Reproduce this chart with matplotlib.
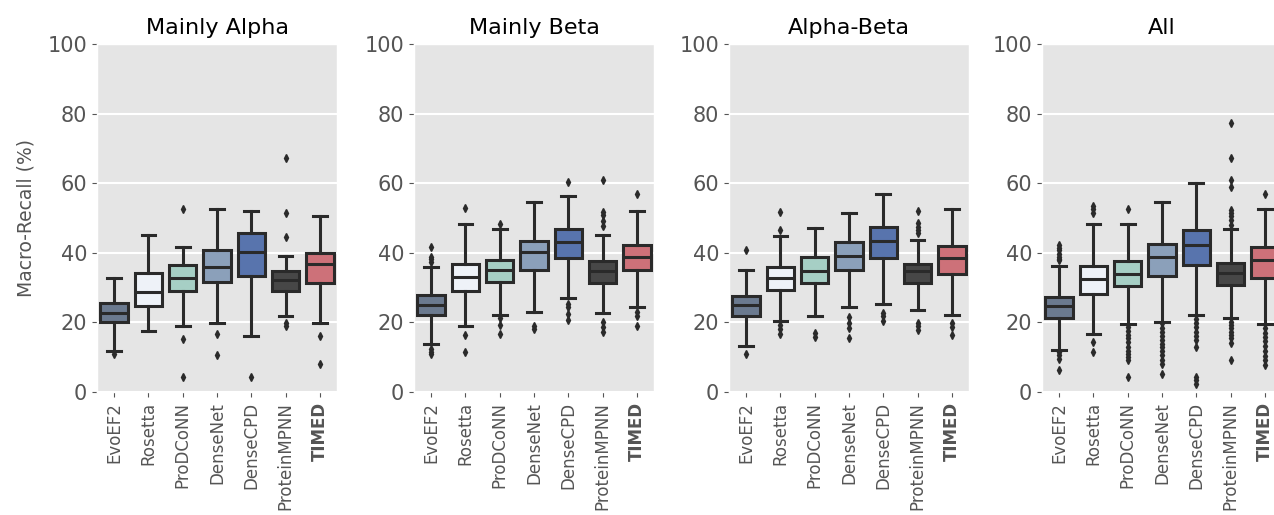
import matplotlib
matplotlib.use('Agg')
import matplotlib.pyplot as plt

# plot settings
plt.style.use('ggplot')
plt.rcParams['font.family'] = ['DejaVu Sans']
edge = '#2a2a2a'

# data
methods = ['EvoEF2', 'Rosetta', 'ProDCoNN', 'DenseNet', 'DenseCPD', 'ProteinMPNN', 'TIMED']
box_colors = ['#6b7a8f', '#eef2f8', '#a6cfc5', '#8ba0ba', '#5874ad', '#474747', '#cd7179']
panel_titles = ['Mainly Alpha', 'Mainly Beta', 'Alpha-Beta', 'All']

alpha_lo = [11.9, 17.4, 19.1, 19.7, 16.2, 21.8, 19.7]
alpha_q1 = [20.1, 24.8, 29.1, 31.6, 33.4, 28.9, 31.2]
alpha_med = [22.8, 28.6, 32.9, 36.0, 40.2, 32.3, 36.9]
alpha_q3 = [25.6, 34.3, 36.4, 40.9, 45.7, 34.8, 40.0]
alpha_hi = [32.9, 45.0, 41.8, 52.7, 51.9, 39.1, 50.7]
alpha_fliers = [[10.8], [], [52.7, 15.1, 4.3], [16.8, 10.7], [4.3],
                [67.2, 51.5, 44.4, 19.7, 18.9], [16.0, 8.1]]

beta_lo = [13.9, 19.1, 22.2, 23.0, 26.9, 22.8, 24.3]
beta_q1 = [22.2, 29.0, 31.6, 35.2, 38.5, 31.2, 35.0]
beta_med = [24.9, 33.1, 35.2, 40.3, 43.0, 34.7, 38.9]
beta_q3 = [27.8, 36.9, 37.9, 43.3, 46.7, 37.6, 42.1]
beta_hi = [36.0, 48.4, 46.9, 54.6, 56.3, 45.0, 52.0]
beta_fliers = [[41.7, 38.8, 38.2, 37.4, 12.5, 11.5, 10.8], [52.9, 16.4, 11.5],
               [48.4, 21.4, 19.2, 16.6], [18.9, 18.2], [60.3, 25.4, 24.4, 22.3, 20.6],
               [60.9, 51.8, 50.8, 49.2, 47.7, 20.1, 18.7, 17.3], [56.8, 23.0, 21.9, 19.0]]

ab_lo = [13.1, 20.5, 21.8, 24.5, 25.4, 23.5, 22.0]
ab_q1 = [21.9, 29.3, 31.4, 35.0, 38.4, 31.2, 33.8]
ab_med = [24.9, 32.7, 34.7, 39.1, 43.3, 34.7, 38.4]
ab_q3 = [27.6, 36.0, 38.8, 43.1, 47.3, 36.8, 42.0]
ab_hi = [35.2, 44.7, 47.0, 51.5, 56.9, 43.7, 52.5]
ab_fliers = [[40.7, 11.0], [51.8, 46.5, 19.2, 18.2, 16.8], [17.0, 15.8],
             [21.6, 19.8, 18.5, 15.6], [22.7, 21.8, 20.4],
             [52.1, 48.5, 47.5, 46.5, 45.6, 19.9, 18.9, 17.8], [19.7, 18.8, 16.4]]

all_lo = [12.2, 16.6, 19.5, 20.2, 22.0, 21.2, 19.5]
all_q1 = [21.4, 28.1, 30.4, 33.4, 36.4, 30.7, 32.7]
all_med = [24.6, 32.6, 34.0, 38.8, 42.2, 34.1, 37.9]
all_q3 = [27.3, 36.1, 37.7, 42.4, 46.5, 37.0, 41.6]
all_hi = [36.1, 48.4, 48.4, 54.6, 60.1, 46.7, 52.5]
all_fliers = [[42.2, 41.5, 40.8, 39.6, 38.9, 38.3, 37.9, 11.5, 10.5, 9.6, 6.2],
              [53.4, 52.5, 51.5, 14.4, 11.5],
              [52.7, 18.7, 17.6, 16.5, 15.4, 14.4, 12.9, 11.9, 11.0, 10.1, 9.1, 4.3],
              [19.7, 18.5, 17.3, 16.1, 15.0, 13.9, 12.8, 11.7, 10.5, 9.3, 8.1, 5.1],
              [21.1, 19.9, 18.6, 17.3, 16.1, 14.8, 12.9, 4.3, 3.4, 2.2],
              [77.4, 67.2, 60.9, 59.0, 52.3, 51.5, 50.5, 49.4, 48.0,
               20.2, 19.3, 18.3, 17.3, 16.4, 15.4, 14.0, 9.2],
              [56.8, 18.3, 17.0, 15.8, 14.6, 13.2, 11.8, 10.4, 9.1, 7.8]]

panels = [(alpha_lo, alpha_q1, alpha_med, alpha_q3, alpha_hi, alpha_fliers),
          (beta_lo, beta_q1, beta_med, beta_q3, beta_hi, beta_fliers),
          (ab_lo, ab_q1, ab_med, ab_q3, ab_hi, ab_fliers),
          (all_lo, all_q1, all_med, all_q3, all_hi, all_fliers)]

fig = plt.figure(figsize=(12.74, 5.15), dpi=100)
W, H = 1274, 515
lefts = [97, 414, 729, 1042]

for k, (lo, q1, med, q3, hi, fl) in enumerate(panels):
    ax = fig.add_axes([lefts[k] / W, 123 / H, 240 / W, 348 / H])
    stats = []
    for i in range(len(methods)):
        stats.append(dict(med=med[i], q1=q1[i], q3=q3[i], whislo=lo[i],
                          whishi=hi[i], fliers=fl[i]))
    bp = ax.bxp(stats, positions=range(len(methods)), widths=0.8, capwidths=0.4,
                patch_artist=True, showfliers=True,
                boxprops=dict(edgecolor=edge, linewidth=2.2),
                medianprops=dict(color=edge, linewidth=2.2),
                whiskerprops=dict(color=edge, linewidth=2.2),
                capprops=dict(color=edge, linewidth=2.2),
                flierprops=dict(marker='d', markersize=4, markerfacecolor=edge,
                                markeredgecolor=edge, linestyle='none'))
    for patch, c in zip(bp['boxes'], box_colors):
        patch.set_facecolor(c)

    ax.set_xlim(-0.5, len(methods) - 0.5)
    ax.set_ylim(0, 100)
    ax.set_yticks([0, 20, 40, 60, 80, 100])
    ax.set_xticks(range(len(methods)))
    ax.set_xticklabels(methods, rotation=90, fontsize=12, color='#555555')
    ax.get_xticklabels()[-1].set_fontweight('bold')
    ax.tick_params(axis='y', labelsize=15, colors='#555555')
    ax.tick_params(axis='x', colors='#555555')
    ax.grid(axis='x', visible=False)
    ax.grid(axis='y', color='white', linewidth=1.5)
    ax.set_axisbelow(True)
    ax.set_title(panel_titles[k], fontsize=16, color='black', pad=7)
    if k == 0:
        ax.set_ylabel('Macro-Recall (%)', fontsize=13.5, color='#555555', labelpad=9)

plt.savefig('out.png', dpi=100)
